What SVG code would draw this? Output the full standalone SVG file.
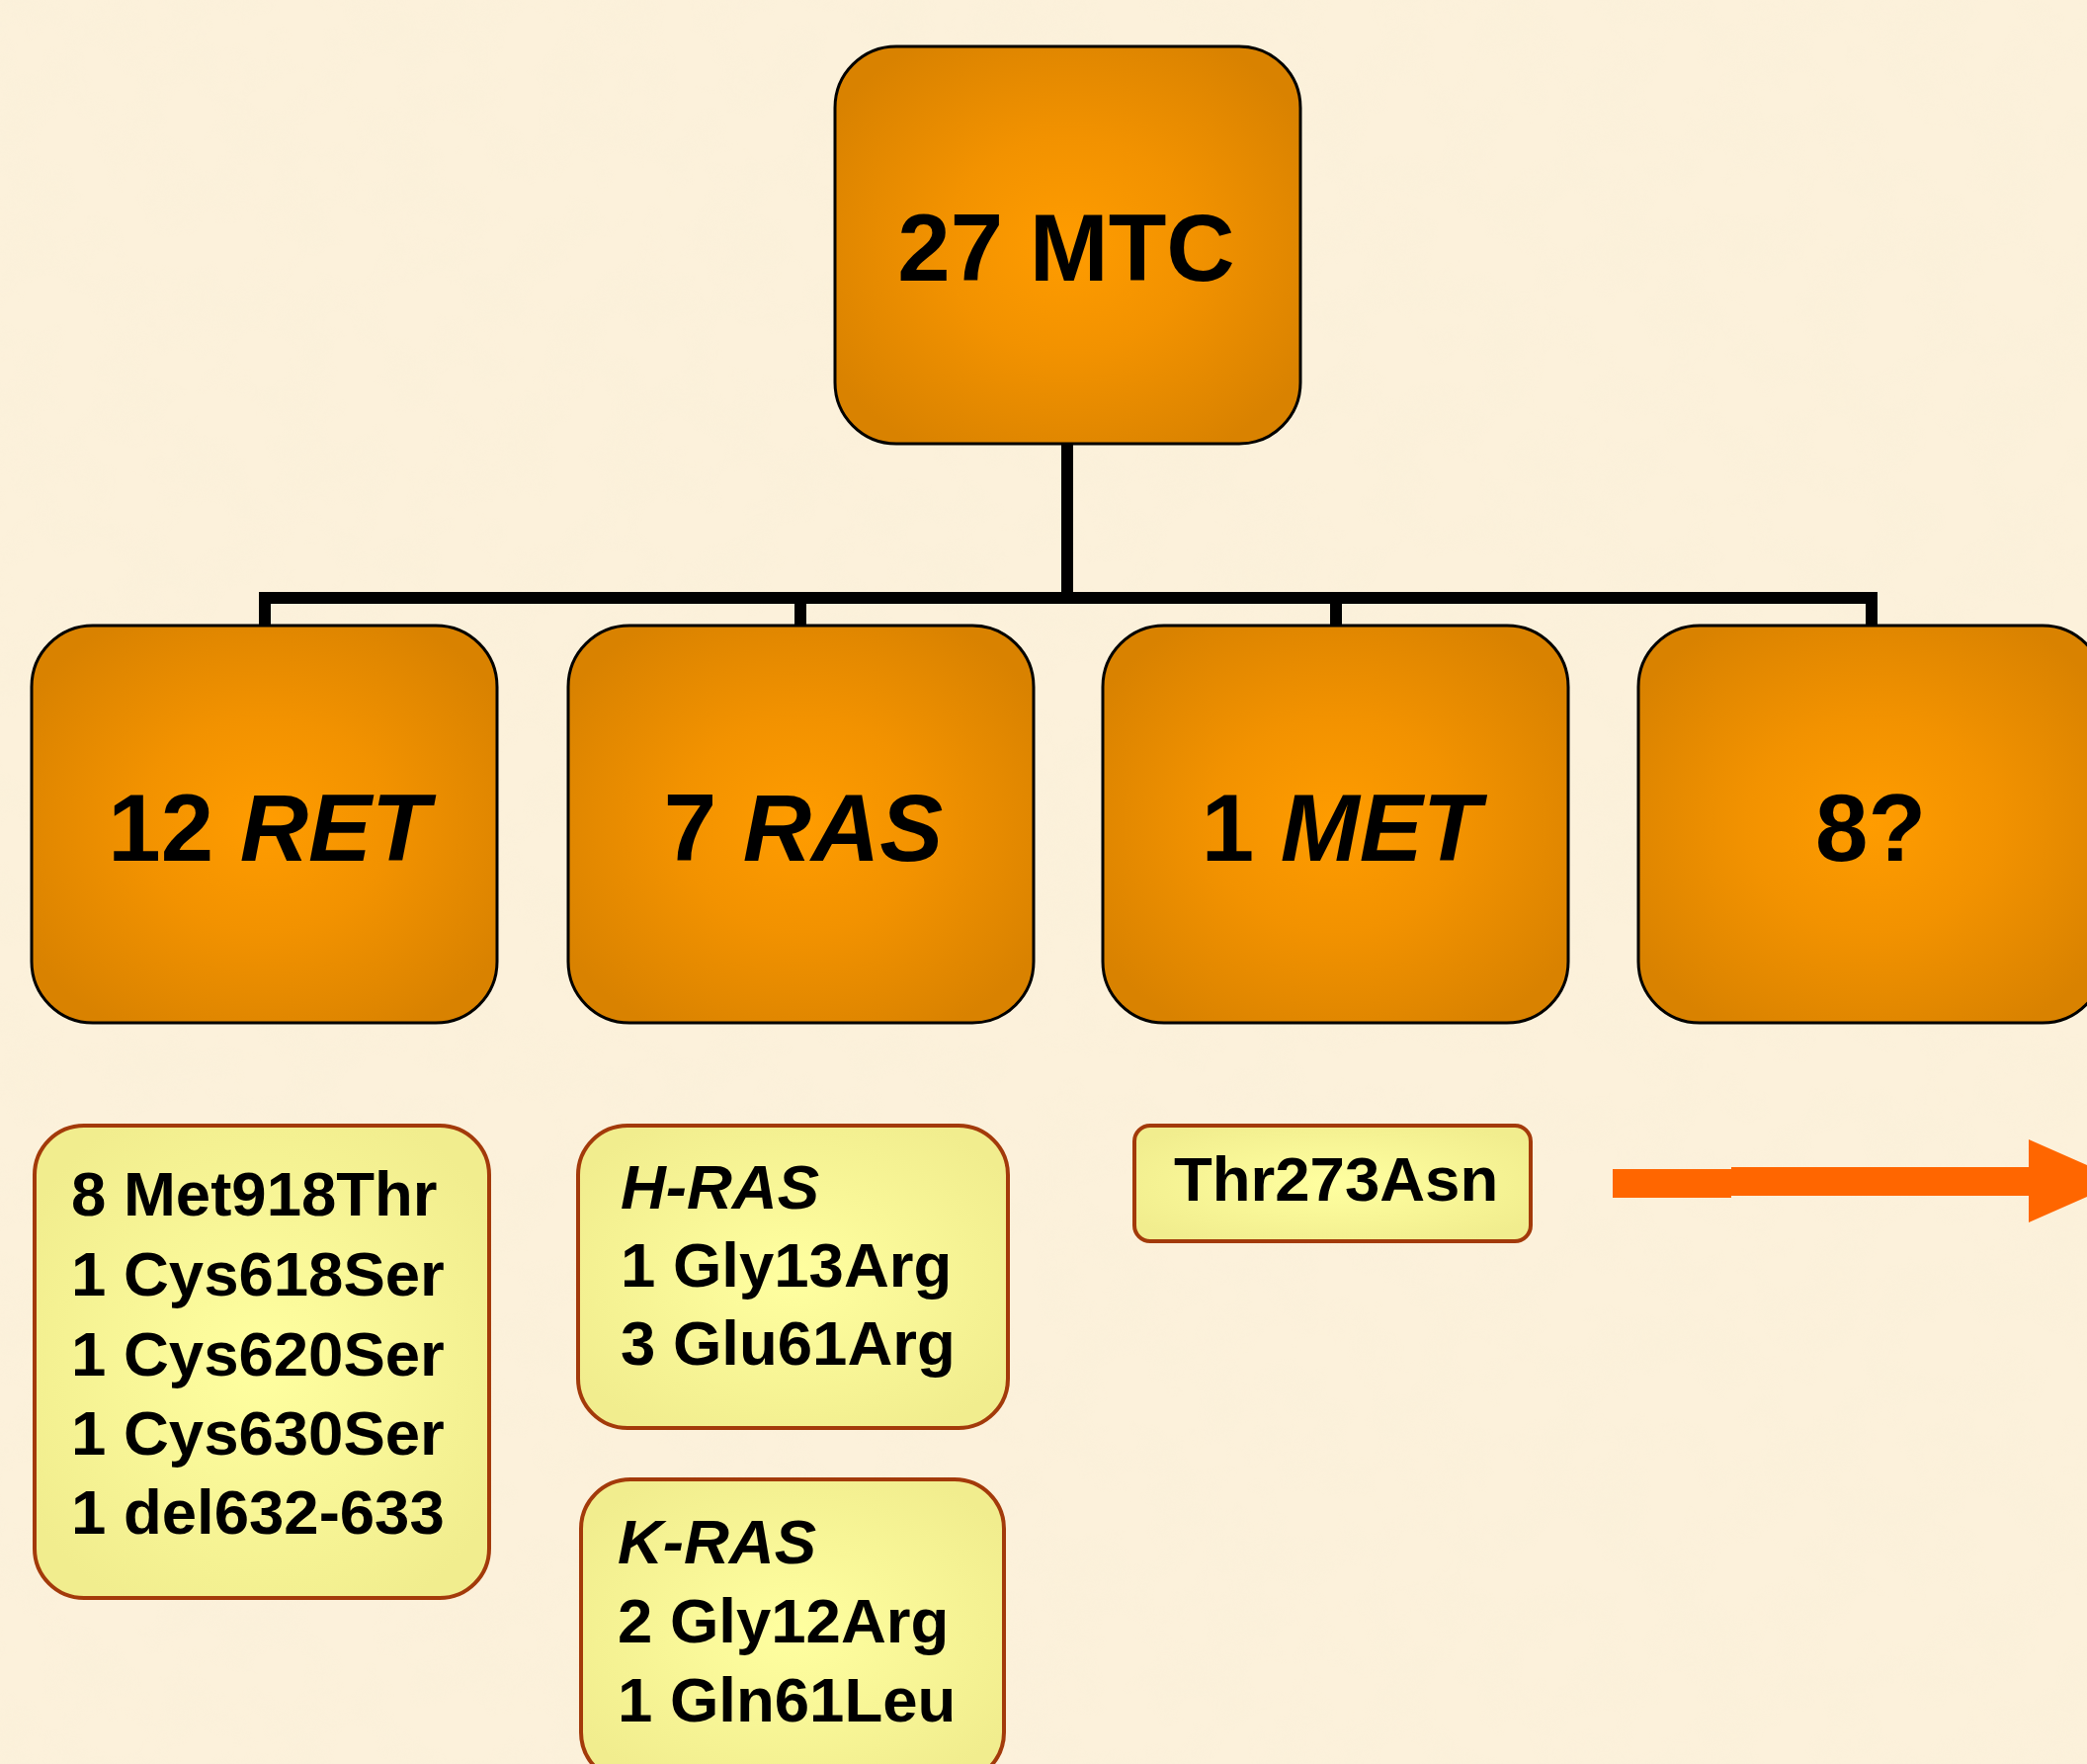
<svg xmlns="http://www.w3.org/2000/svg" width="2112" height="1785" viewBox="0 0 2112 1785">
  <defs>
    <radialGradient id="orangeFill" cx="0.5" cy="0.5" r="0.6">
      <stop offset="0" stop-color="#FF9C00"/>
      <stop offset="0.45" stop-color="#F29200"/>
      <stop offset="1" stop-color="#D98200"/>
    </radialGradient>
    <radialGradient id="yellowFill" cx="0.5" cy="0.5" r="0.6">
      <stop offset="0" stop-color="#FFFFA0"/>
      <stop offset="1" stop-color="#F1ED8E"/>
    </radialGradient>
    <filter id="paper" filterUnits="userSpaceOnUse" x="0" y="0" width="2112" height="1785">
      <feTurbulence type="fractalNoise" baseFrequency="0.018" numOctaves="3" seed="7" result="n"/>
      <feColorMatrix in="n" type="matrix" values="0 0 0 0 0.90  0 0 0 0 0.84  0 0 0 0 0.66  0.7 0 0 0 -0.3"/>
    </filter>
    <style>
      .big { font-family: "Liberation Sans", Arial, sans-serif; font-weight: bold; font-size: 96px; fill: #000; text-anchor: middle; }
      .small { font-family: "Liberation Sans", Arial, sans-serif; font-weight: bold; font-size: 63.5px; fill: #000; }
      .it { font-style: italic; }
      .gene { fill: url(#orangeFill); stroke: #000; stroke-width: 3; }
      .detail { fill: url(#yellowFill); stroke: #A33A0A; stroke-width: 4; }
      .conn { fill: none; stroke: #000; stroke-width: 12; stroke-linejoin: miter; }
    </style>
  </defs>

  <!-- parchment background -->
  <rect x="0" y="0" width="2112" height="1785" fill="#FCF1DB"/>
  <rect x="0" y="0" width="2112" height="1785" filter="url(#paper)" opacity="0.5"/>

  <!-- tree connectors -->
  <g id="connectors">
    <path class="conn" d="M1080 449 V605"/>
    <path class="conn" d="M268 633 V605 H1894 V633"/>
    <path class="conn" d="M810 605 V633"/>
    <path class="conn" d="M1352 605 V633"/>
  </g>

  <!-- root -->
  <g id="node-mtc">
    <rect class="gene" x="845" y="47" width="471" height="402" rx="62" ry="62"/>
    <text class="big" x="1079" y="284">27 MTC</text>
  </g>

  <!-- gene groups -->
  <g id="node-ret">
    <rect class="gene" x="32" y="633" width="471" height="402" rx="62" ry="62"/>
    <text class="big" x="272" y="871">12 <tspan class="it">RET</tspan></text>
  </g>
  <g id="node-ras">
    <rect class="gene" x="575" y="633" width="471" height="402" rx="62" ry="62"/>
    <text class="big" x="813" y="871">7 <tspan class="it">RAS</tspan></text>
  </g>
  <g id="node-met">
    <rect class="gene" x="1116" y="633" width="471" height="402" rx="62" ry="62"/>
    <text class="big" x="1357" y="871">1 <tspan class="it">MET</tspan></text>
  </g>
  <g id="node-unknown">
    <rect class="gene" x="1658" y="633" width="471" height="402" rx="62" ry="62"/>
    <text class="big" x="1893" y="871">8?</text>
  </g>

  <!-- mutation details -->
  <g id="detail-ret">
    <rect class="detail" x="35" y="1139" width="460" height="478" rx="50" ry="50"/>
    <text class="small" x="72" y="1230">8 Met918Thr</text>
    <text class="small" x="72" y="1311">1 Cys618Ser</text>
    <text class="small" x="72" y="1392">1 Cys620Ser</text>
    <text class="small" x="72" y="1472">1 Cys630Ser</text>
    <text class="small" x="72" y="1552">1 del632-633</text>
  </g>
  <g id="detail-hras">
    <rect class="detail" x="585" y="1139" width="435" height="306" rx="50" ry="50"/>
    <text class="small it" x="628" y="1223">H-RAS</text>
    <text class="small" x="628" y="1302">1 Gly13Arg</text>
    <text class="small" x="628" y="1381">3 Glu61Arg</text>
  </g>
  <g id="detail-kras">
    <rect class="detail" x="588" y="1497" width="428" height="306" rx="50" ry="50"/>
    <text class="small it" x="625" y="1582">K-RAS</text>
    <text class="small" x="625" y="1662">2 Gly12Arg</text>
    <text class="small" x="625" y="1742">1 Gln61Leu</text>
  </g>
  <g id="detail-met">
    <rect class="detail" x="1148" y="1139" width="401" height="117" rx="16" ry="16"/>
    <text class="small" x="1188" y="1215">Thr273Asn</text>
  </g>

  <!-- orange pointer -->
  <g id="arrow">
    <path fill="#FF6600" d="M1632 1183 H1752 V1181 H2053 V1153 L2148 1195 L2053 1237 V1210 H1752 V1212 H1632 Z"/>
  </g>
</svg>
